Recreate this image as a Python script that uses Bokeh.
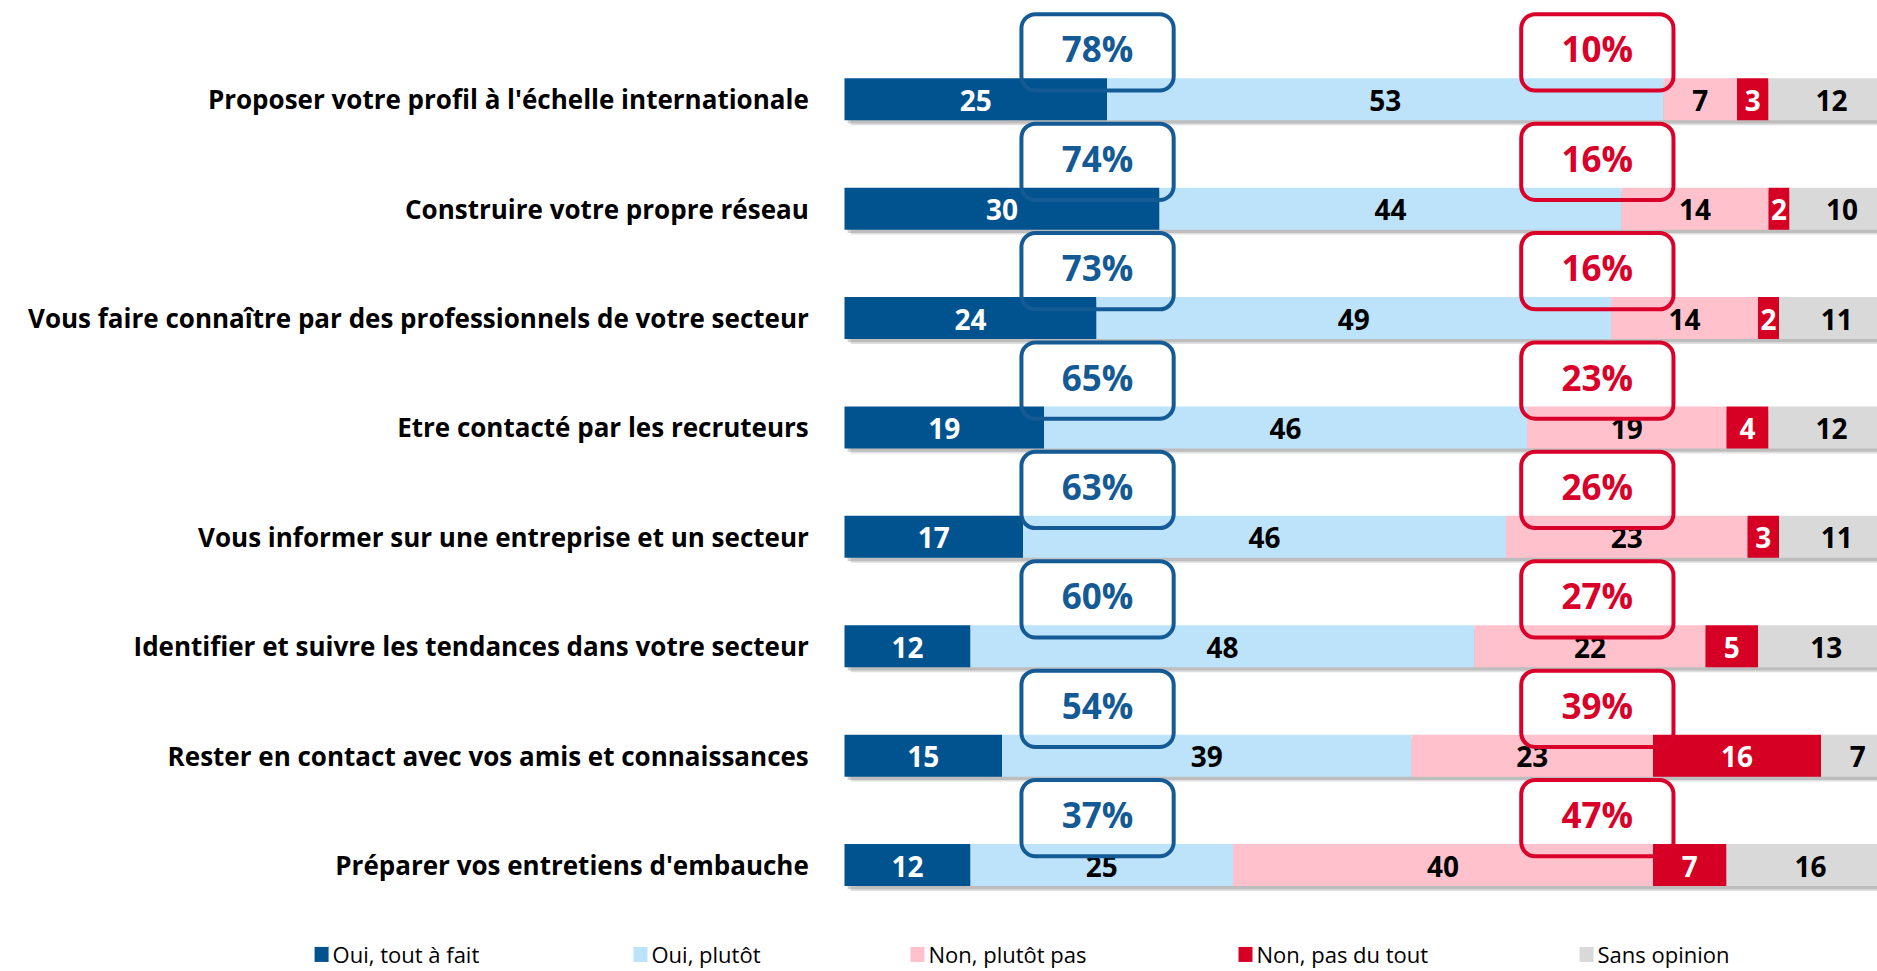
from bokeh.plotting import figure
from bokeh.models import Range1d, ColumnDataSource
from bokeh.core.properties import value
from bokeh.embed import file_html
from bokeh.resources import INLINE

categories = [
    "Proposer votre profil à l'échelle internationale",
    "Construire votre propre réseau",
    "Vous faire connaître par des professionnels de votre secteur",
    "Etre contacté par les recruteurs",
    "Vous informer sur une entreprise et un secteur",
    "Identifier et suivre les tendances dans votre secteur",
    "Rester en contact avec vos amis et connaissances",
    "Préparer vos entretiens d'embauche",
]
oui_tout = [25, 30, 24, 19, 17, 12, 15, 12]
oui_plutot = [53, 44, 49, 46, 46, 48, 39, 25]
non_plutot = [7, 14, 14, 19, 23, 22, 23, 40]
non_pas = [3, 2, 2, 4, 3, 5, 16, 7]
sans_opinion = [12, 10, 11, 12, 11, 13, 7, 16]
total_oui = [78, 74, 73, 65, 63, 60, 54, 37]
total_non = [10, 16, 16, 23, 26, 27, 39, 47]
series_names = ["Oui, tout à fait", "Oui, plutôt", "Non, plutôt pas", "Non, pas du tout", "Sans opinion"]

colors = ["#00538F", "#BDE3FB", "#FFC2CD", "#D60024", "#D9D9D9"]
label_colors = ["white", "black", "black", "white", "black"]
BLUE_BOX = "#145A95"
RED_BOX = "#D9002A"
FONT = "Open Sans"

W, H = 1877, 971
p = figure(width=W, height=H, output_backend="svg", toolbar_location=None,
           x_range=Range1d(-80.38, 98.38), y_range=Range1d(7.973, -0.903),
           min_border=0, outline_line_color=None)
p.axis.visible = False
p.grid.visible = False
p.background_fill_color = "white"
p.border_fill_color = "white"

rows = list(range(len(categories)))
series = [oui_tout, oui_plutot, non_plutot, non_pas, sans_opinion]
bar_h = 0.384

# shadows
tot = [sum(s[i] for s in series) for i in rows]
p.hbar(y=[r + 0.045 for r in rows], left=[0.6] * len(rows), right=[t + 0.6 for t in tot],
       height=bar_h, fill_color="#7f7f7f", fill_alpha=0.25, line_color=None)
p.hbar(y=[r + 0.03 for r in rows], left=[0.3] * len(rows), right=[t + 0.3 for t in tot],
       height=bar_h, fill_color="#7f7f7f", fill_alpha=0.35, line_color=None)

left = [0] * len(rows)
for k, s in enumerate(series):
    right = [l + v for l, v in zip(left, s)]
    p.hbar(y=rows, left=left, right=right, height=bar_h, fill_color=colors[k], line_color=None)
    src = ColumnDataSource(dict(x=[(l + r) / 2 for l, r in zip(left, right)], y=rows,
                                t=[str(v) for v in s]))
    p.text(x="x", y="y", text="t", source=src, text_align="center", text_baseline="middle",
           text_font=value(FONT), text_font_style="bold", text_font_size="28px",
           text_color=label_colors[k], y_offset=1)
    left = right

# category labels
p.text(x=[-3.4] * len(rows), y=rows, text=categories, text_align="right", text_baseline="middle",
       text_font=value(FONT), text_font_style="bold", text_font_size="26px", text_color="black")

# percentage boxes
box_w = 14.5
oui_c, non_c = 24.1, 71.7
box_top = [r - 0.777 for r in rows]
box_bot = [r - 0.080 for r in rows]
p.quad(left=[oui_c - box_w / 2] * len(rows), right=[oui_c + box_w / 2] * len(rows),
       top=box_top, bottom=box_bot, fill_color=None, line_color=BLUE_BOX, line_width=4,
       border_radius=14)
p.quad(left=[non_c - box_w / 2] * len(rows), right=[non_c + box_w / 2] * len(rows),
       top=box_top, bottom=box_bot, fill_color=None, line_color=RED_BOX, line_width=4,
       border_radius=14)
p.text(x=[oui_c] * len(rows), y=[r - 0.46 for r in rows], text=[f"{v}%" for v in total_oui],
       text_align="center", text_baseline="middle", text_font=value(FONT), text_font_style="bold",
       text_font_size="35px", text_color=BLUE_BOX)
p.text(x=[non_c] * len(rows), y=[r - 0.46 for r in rows], text=[f"{v}%" for v in total_non],
       text_align="center", text_baseline="middle", text_font=value(FONT), text_font_style="bold",
       text_font_size="35px", text_color=RED_BOX)

# legend
leg_x = [-49.8, -19.43, 6.95, 38.19, 70.67]
leg_y = 7.817
p.rect(x=leg_x, y=[leg_y] * 5, width=14, height=15, width_units="screen", height_units="screen",
       fill_color=colors, line_color=None)
p.text(x=leg_x, y=[leg_y] * 5, text=series_names, text_align="left", x_offset=11,
       text_baseline="middle", text_font=value(FONT), text_font_size="22px", text_color="black")

open("out.html", "w").write(file_html(p, INLINE))
